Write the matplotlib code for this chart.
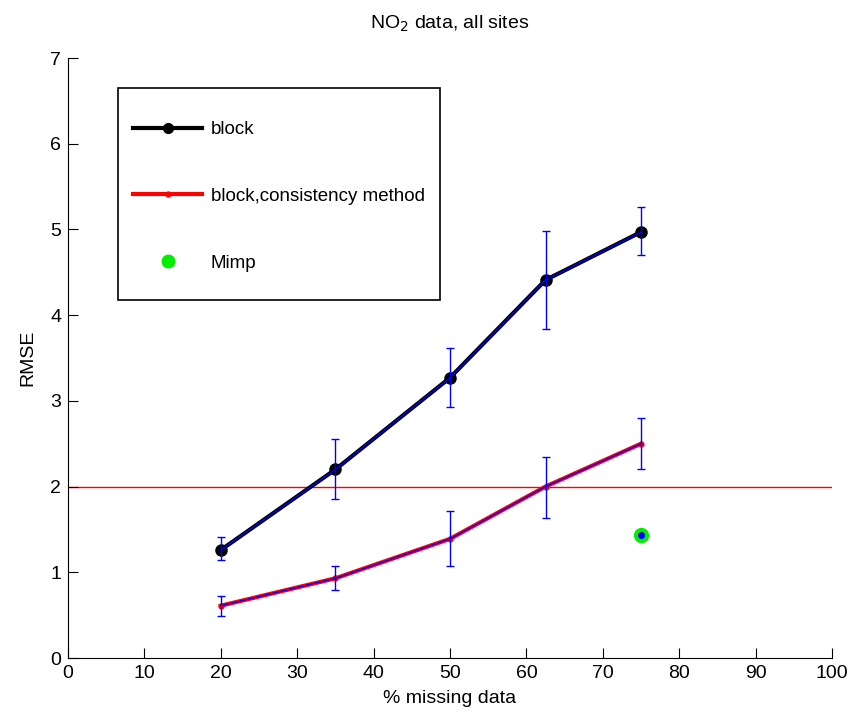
import matplotlib
matplotlib.use("Agg")
import matplotlib.pyplot as plt
from matplotlib.lines import Line2D
from matplotlib.patches import Rectangle

plt.rcParams['font.family'] = ['Liberation Sans', 'DejaVu Sans']

# % missing data
missing = [20, 35, 50, 62.5, 75]

# block imputation RMSE with error bar limits
block = [1.26, 2.20, 3.27, 4.41, 4.97]
block_hi = [1.41, 2.55, 3.62, 4.98, 5.26]
block_lo = [1.14, 1.85, 2.93, 3.84, 4.70]

# block, consistency method
cons = [0.61, 0.93, 1.39, 2.00, 2.50]
cons_hi = [0.72, 1.07, 1.72, 2.35, 2.80]
cons_lo = [0.49, 0.79, 1.07, 1.63, 2.21]

mimp_x = [75]
mimp_y = [1.44]

threshold = 2.0


def err(y, lo, hi):
    return [[a - b for a, b in zip(y, lo)], [b - a for a, b in zip(y, hi)]]


fig = plt.figure(figsize=(8.53, 7.2), dpi=100)
ax = fig.add_axes([0.0797, 0.0861, 0.8957, 0.8333])

ax.axhline(threshold, color='red', lw=1.0, zorder=1)

ax.plot(missing, block, color='black', lw=3, marker='o', ms=8, zorder=3)
ax.errorbar(missing, block, yerr=err(block, block_lo, block_hi), color='blue',
            lw=1, capsize=3, capthick=1, zorder=4)

ax.plot(missing, cons, color='red', lw=3, marker='.', ms=7, zorder=3)
ax.errorbar(missing, cons, yerr=err(cons, cons_lo, cons_hi), color='blue',
            lw=1, capsize=3, capthick=1, zorder=4)

ax.plot(mimp_x, mimp_y, 'o', color='#00ee00', ms=10, zorder=3)
ax.plot(mimp_x, mimp_y, 'o', color='blue', ms=4, zorder=4)

ax.set_xlim(0, 100)
ax.set_ylim(0, 7)
ax.set_xticks(range(0, 101, 10))
ax.set_yticks(range(0, 8))
ax.tick_params(direction='in', length=7, labelsize=14, width=0.8, pad=5)
for s in ['top', 'right']:
    ax.spines[s].set_visible(False)
ax.set_xlabel('% missing data', fontsize=14, labelpad=6)
ax.set_ylabel('RMSE', fontsize=14, labelpad=10)
ax.set_title('NO$_2$ data, all sites', fontsize=14, pad=21)

# legend box
ax.add_patch(Rectangle((0.0654, 0.597), 0.4215, 0.353, transform=ax.transAxes,
                       fill=False, edgecolor='black', lw=1.2, zorder=5))

handles = [
    Line2D([], [], color='black', lw=3, marker='o', ms=7),
    Line2D([], [], color='red', lw=3, marker='.', ms=7),
    Line2D([], [], color='#00ee00', marker='o', ls='none', ms=9),
]
labels = ['block', 'block,consistency method', 'Mimp']
leg = ax.legend(handles, labels, loc='upper left', bbox_to_anchor=(0.085, 0.895),
                fontsize=13.5, frameon=False, labelspacing=2.65,
                handlelength=3.7, borderpad=0, borderaxespad=0, handletextpad=0.45)

fig.savefig('out.png', dpi=100)
